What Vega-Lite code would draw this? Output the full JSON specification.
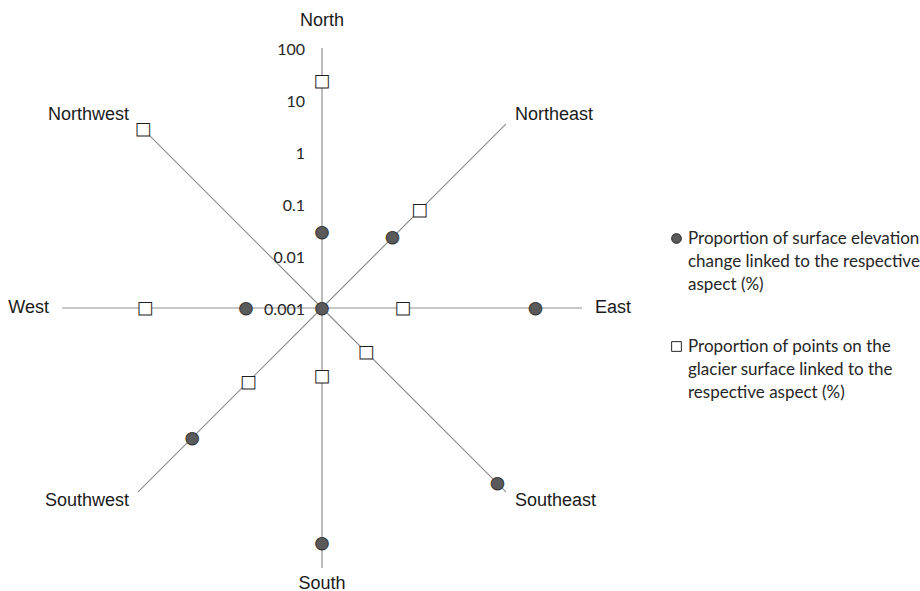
{
  "$schema": "https://vega.github.io/schema/vega-lite/v6.json",
  "width": 644,
  "height": 591,
  "autosize": {"type": "none"},
  "padding": {"left": 0, "top": 0, "right": 276, "bottom": 0},
  "background": "white",
  "config": {
    "view": {"stroke": null},
    "style": {"guide-label": {"lineHeight": 23, "dy": -8}},
    "legend": {
      "title": null,
      "orient": "none",
      "legendX": 668,
      "legendY": 230,
      "labelFont": "Lato",
      "labelFontSize": 17,
      "labelColor": "#262626",
      "labelLimit": 400,
      "labelBaseline": "top",
      "labelOffset": 3,
      "rowPadding": 44,
      "symbolSize": 95,
      "symbolStrokeColor": "#262626",
      "symbolStrokeWidth": 1
    }
  },
  "datasets": {
    "aspects": [
      {"aspect": "North", "angle": 0, "change": 0.029, "points": 23},
      {"aspect": "Northeast", "angle": 45, "change": 0.083, "points": 0.46},
      {"aspect": "East", "angle": 90, "change": 12.8, "points": 0.036},
      {"aspect": "Southeast", "angle": 135, "change": 59, "points": 0.016},
      {"aspect": "South", "angle": 180, "change": 33.5, "points": 0.02},
      {"aspect": "Southwest", "angle": 225, "change": 3.4, "points": 0.1},
      {"aspect": "West", "angle": 270, "change": 0.029, "points": 2.5},
      {"aspect": "Northwest", "angle": 315, "change": 0.001, "points": 72}
    ],
    "ticks": [
      {"tick": 100, "label": "100"},
      {"tick": 10, "label": "10"},
      {"tick": 1, "label": "1"},
      {"tick": 0.1, "label": "0.1"},
      {"tick": 0.01, "label": "0.01"},
      {"tick": 0.001, "label": "0.001"}
    ]
  },
  "layer": [
    {
      "data": {"name": "aspects"},
      "mark": {"type": "arc", "fill": null, "stroke": "#8f8f8f", "strokeWidth": 1.2, "yOffset": 12.5},
      "encoding": {
        "theta": {
          "field": "angle", "type": "quantitative", "stack": null,
          "scale": {"type": "linear", "domain": [0, 360], "range": [0, 6.283185307179586]}
        },
        "theta2": {"field": "angle"},
        "radius": {
          "datum": 100, "type": "quantitative",
          "scale": {"type": "log", "domain": [0.001, 100], "range": [0, 260]}
        }
      }
    },
    {
      "data": {"name": "ticks"},
      "mark": {"type": "text", "align": "right", "baseline": "middle", "dx": -17, "dy": 2, "yOffset": 12.5, "font": "Lato", "fontSize": 16, "fill": "#262626"},
      "encoding": {
        "theta": {"datum": 0, "type": "quantitative", "stack": null},
        "radius": {"field": "tick", "type": "quantitative"},
        "text": {"field": "label"}
      }
    },
    {
      "data": {"name": "aspects"},
      "mark": {
        "type": "text", "baseline": "middle", "radiusOffset": 13, "yOffset": 12.5,
        "font": "Liberation Sans", "fontSize": 18, "fill": "#1a1a1a",
        "align": {"expr": "datum.angle == 0 || datum.angle == 180 ? 'center' : datum.angle < 180 ? 'left' : 'right'"},
        "dy": {"expr": "datum.angle == 0 ? -14 : datum.angle == 180 ? 3 : 0"}
      },
      "encoding": {
        "theta": {"field": "angle", "type": "quantitative", "stack": null},
        "radius": {"datum": 100, "type": "quantitative"},
        "text": {"field": "aspect"}
      }
    },
    {
      "data": {"name": "aspects"},
      "mark": {"type": "text", "text": "●", "align": "center", "baseline": "middle", "yOffset": 12.5, "font": "DejaVu Sans", "fontSize": 16.5, "stroke": "#2e2e2e", "strokeWidth": 0.9},
      "encoding": {
        "theta": {"field": "angle", "type": "quantitative", "stack": null},
        "radius": {"field": "change", "type": "quantitative"},
        "color": {
          "datum": "change",
          "scale": {"domain": ["change", "points"], "range": ["#5a5a5a", "#ffffff"]},
          "legend": {
            "symbolType": {"expr": "datum.value == 'points' ? 'square' : 'circle'"},
            "labelExpr": "datum.value == 'change' ? ['Proportion of surface elevation', 'change linked to the respective', 'aspect (%)'] : ['Proportion of points on the', 'glacier surface linked to the', 'respective aspect (%)']"
          }
        }
      }
    },
    {
      "data": {"name": "aspects"},
      "mark": {"type": "text", "text": "■", "align": "center", "baseline": "middle", "yOffset": 12.5, "font": "DejaVu Sans", "fontSize": 16.5, "stroke": "#1f1f1f", "strokeWidth": 1},
      "encoding": {
        "theta": {"field": "angle", "type": "quantitative", "stack": null},
        "radius": {"field": "points", "type": "quantitative"},
        "color": {"datum": "points"}
      }
    }
  ]
}
